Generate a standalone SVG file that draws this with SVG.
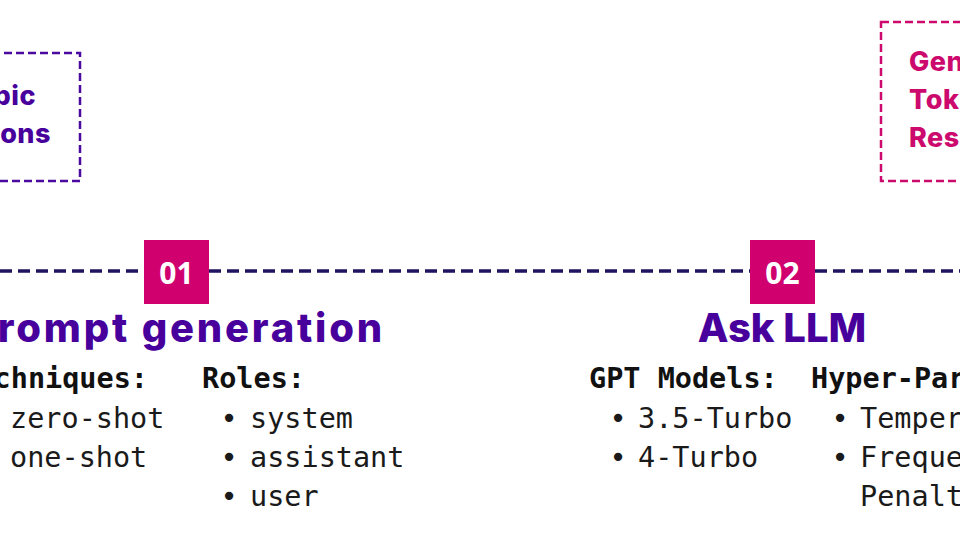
<svg xmlns="http://www.w3.org/2000/svg" width="960" height="540" viewBox="0 0 960 540">
<style>
.bg{fill:#ffffff}
.timeline{stroke:#21135f;stroke-width:3.5;stroke-dasharray:12 6;fill:none}
.badge{fill:#d0006f}
.num{font-family:"Open Sans","Noto Sans",sans-serif;font-weight:700;font-size:30px;fill:#ffffff;text-anchor:middle}
.title{font-family:Inter,"Noto Sans",sans-serif;font-weight:800;font-size:40px;fill:#48009c}
.mono{font-family:"DejaVu Sans Mono","Liberation Mono",monospace;font-size:28.5px;fill:#1a1a1a}
.monob{font-family:"DejaVu Sans Mono","Liberation Mono",monospace;font-size:28.5px;font-weight:700;fill:#111111}
.bul{font-family:"DejaVu Sans Mono",monospace;font-size:28.5px;fill:#1a1a1a;text-anchor:middle}
.boxp{fill:none;stroke:#4a0aa0;stroke-width:2.5;stroke-dasharray:8 4}
.boxm{fill:none;stroke:#cc0a6e;stroke-width:2.5;stroke-dasharray:8 4}
.notep{font-family:Inter,"Noto Sans",sans-serif;font-weight:800;font-size:27px;letter-spacing:0.5px;fill:#48009c}
.notem{font-family:Inter,"Noto Sans",sans-serif;font-weight:800;font-size:27px;letter-spacing:0.5px;fill:#cc0a6e}
</style>
<rect class="bg" x="0" y="0" width="960" height="540"/>
<g id="connectors">
<line class="timeline" x1="0" y1="271" x2="144" y2="271"/>
<line class="timeline" x1="209" y1="271" x2="750" y2="271"/>
<line class="timeline" x1="815" y1="271" x2="960" y2="271"/>
</g>
<g id="note-topic">
<rect class="boxp" x="-200" y="53" width="280" height="128"/>
<text class="notep" x="36" y="105" text-anchor="end">pic</text>
<text class="notep" x="51" y="143" text-anchor="end">ons</text>
</g>
<g id="note-generate">
<rect class="boxm" x="881" y="22" width="300" height="159"/>
<text class="notem" x="909" y="71">Gen</text>
<text class="notem" x="909" y="109">Tok</text>
<text class="notem" x="909" y="147">Res</text>
</g>
<g id="step-01">
<rect class="badge" x="144" y="240" width="65" height="64"/>
<text class="num" x="176.5" y="284">01</text>
<text class="title" x="385" y="342" text-anchor="end" letter-spacing="2.8">rompt generation</text>
<text class="monob" x="148" y="388" text-anchor="end">chniques:</text>
<text class="mono" x="10" y="428">zero-shot</text>
<text class="mono" x="10" y="467">one-shot</text>
<text class="monob" x="202" y="388">Roles:</text>
<text class="bul" x="229" y="428">•</text>
<text class="mono" x="250" y="428">system</text>
<text class="bul" x="229" y="467">•</text>
<text class="mono" x="250" y="467">assistant</text>
<text class="bul" x="229" y="506">•</text>
<text class="mono" x="250" y="506">user</text>
</g>
<g id="step-02">
<rect class="badge" x="750" y="240" width="65" height="64"/>
<text class="num" x="782.5" y="284">02</text>
<text class="title" x="782" y="342" text-anchor="middle">Ask LLM</text>
<text class="monob" x="589" y="388">GPT Models:</text>
<text class="bul" x="618" y="428">•</text>
<text class="mono" x="638" y="428">3.5-Turbo</text>
<text class="bul" x="618" y="467">•</text>
<text class="mono" x="638" y="467">4-Turbo</text>
<text class="monob" x="811" y="388">Hyper-Par</text>
<text class="bul" x="840" y="428">•</text>
<text class="mono" x="860" y="428">Temper</text>
<text class="bul" x="840" y="467">•</text>
<text class="mono" x="860" y="467">Freque</text>
<text class="mono" x="860" y="506">Penalt</text>
</g>
</svg>
